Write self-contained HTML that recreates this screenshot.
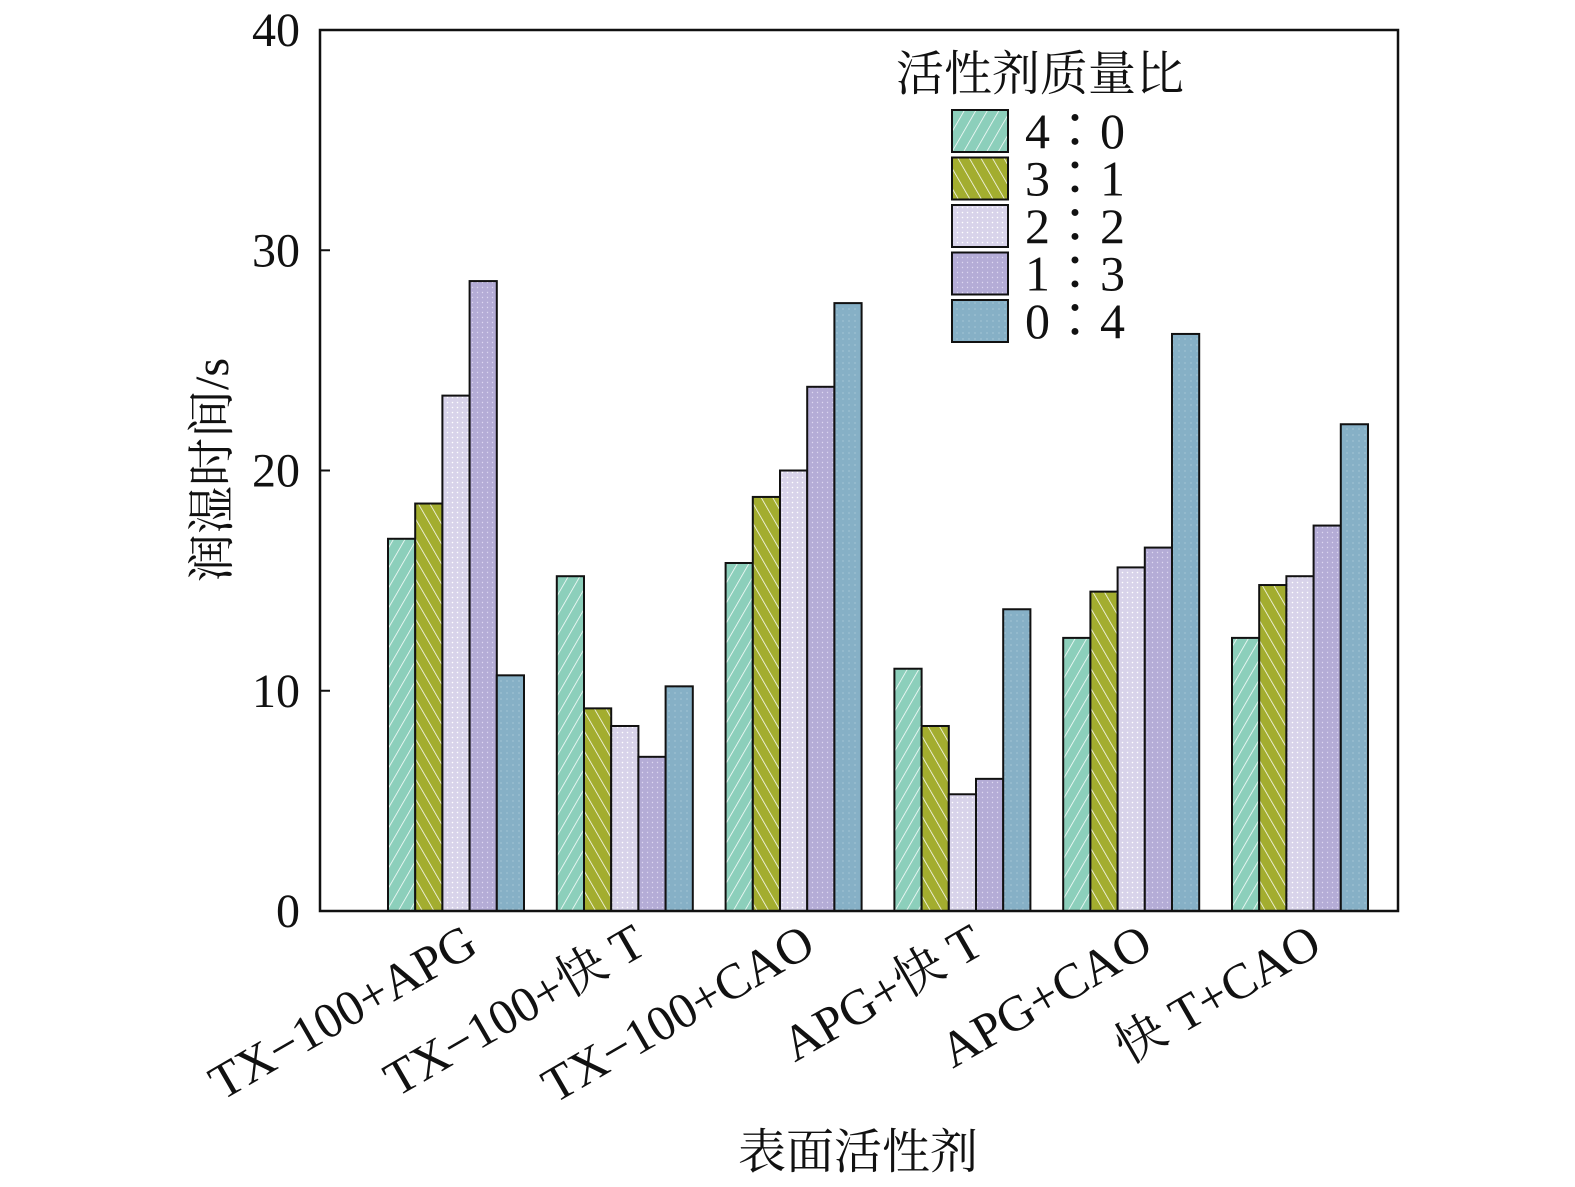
<!DOCTYPE html>
<html><head><meta charset="utf-8"><style>
body{margin:0;background:#fff}
svg text{font-family:"Liberation Serif","Noto Serif CJK SC",serif;fill:#111}
</style></head><body>
<svg width="1575" height="1182">
<defs>
<pattern id="p0" width="10" height="10" patternUnits="userSpaceOnUse" patternTransform="rotate(30)"><rect width="10" height="10" fill="#8ccfbb"/><line x1="0" y1="0" x2="0" y2="10" stroke="#fff" stroke-width="1.5"/></pattern>
<pattern id="p1" width="10" height="10" patternUnits="userSpaceOnUse" patternTransform="rotate(-30)"><rect width="10" height="10" fill="#a3ad2f"/><line x1="0" y1="0" x2="0" y2="10" stroke="#fff" stroke-width="1.5"/></pattern>
<pattern id="p2" width="5" height="5" patternUnits="userSpaceOnUse"><rect width="5" height="5" fill="#d8d3ea"/><circle cx="2.5" cy="2.5" r="0.8" fill="#fff"/></pattern>
<pattern id="p3" width="5" height="5" patternUnits="userSpaceOnUse"><rect width="5" height="5" fill="#b4acd6"/><circle cx="2.5" cy="2.5" r="0.7" fill="#ddd8f0"/></pattern>
<pattern id="p4" width="6" height="6" patternUnits="userSpaceOnUse"><rect width="6" height="6" fill="#86b0c6"/><circle cx="3" cy="3" r="0.6" fill="#b8d2e0"/></pattern>
</defs>
<g id="bars"></g>
<rect x="320" y="30" width="1078" height="881" fill="none" stroke="#111" stroke-width="2.5"/>
<g id="axes"></g>
<text x="1040" y="90" font-size="48" text-anchor="middle">活性剂质量比</text>
<g id="legend"></g>
<text x="858" y="1168" font-size="48" text-anchor="middle">表面活性剂</text>
<text transform="translate(228,470) rotate(-90)" font-size="48" text-anchor="middle">润湿时间/s</text>
</svg>
<script>
const categories=["TX−100+APG","TX−100+快 T","TX−100+CAO","APG+快 T","APG+CAO","快 T+CAO"];
const seriesNames=["4∶0","3∶1","2∶2","1∶3","0∶4"];
const s40=[16.9,15.2,15.8,11.0,12.4,12.4];
const s31=[18.5,9.2,18.8,8.4,14.5,14.8];
const s22=[23.4,8.4,20.0,5.3,15.6,15.2];
const s13=[28.6,7.0,23.8,6.0,16.5,17.5];
const s04=[10.7,10.2,27.6,13.7,26.2,22.1];
const yTicks=[0,10,20,30,40];
const series=[s40,s31,s22,s13,s04];
const NS="http://www.w3.org/2000/svg";
function y(v){return 911-v*22.025;}
function gx(i){return 456+i*168.8;}
const bw=27.2;
function mk(t,a,p){const e=document.createElementNS(NS,t);for(const k in a)e.setAttribute(k,a[k]);(p).appendChild(e);return e;}
const bars=document.getElementById('bars'),axes=document.getElementById('axes'),leg=document.getElementById('legend');
series.forEach((s,j)=>{s.forEach((v,i)=>{
 const r=mk('rect',{x:gx(i)+(j-2.5)*bw,y:y(v),width:bw,height:911-y(v),fill:`url(#p${j})`,stroke:'#111','stroke-width':2},bars);
 
 
});});
yTicks.forEach(t=>{
 const l=mk('line',{x1:320,x2:330,y1:y(t),y2:y(t),stroke:'#111','stroke-width':2},axes);
 
 
 const tx=mk('text',{x:300,y:y(t)+16,'font-size':48,'text-anchor':'end'},axes);tx.textContent=t;
 
 
});
categories.forEach((c,i)=>{
 const tx=mk('text',{transform:`translate(${gx(i)+24},${952}) rotate(-30)`,'font-size':50,'text-anchor':'end'},axes);tx.textContent=c;
 
 
});
seriesNames.forEach((n,j)=>{
 const yy=110+j*47.5;
 const r=mk('rect',{x:952,y:yy,width:56,height:42,fill:`url(#p${j})`,stroke:'#111','stroke-width':2},leg);
 
 
 const tx=mk('text',{x:1025,y:yy+38,'font-size':50},leg);tx.textContent=n;
 
 
});
</script>
</body></html>
